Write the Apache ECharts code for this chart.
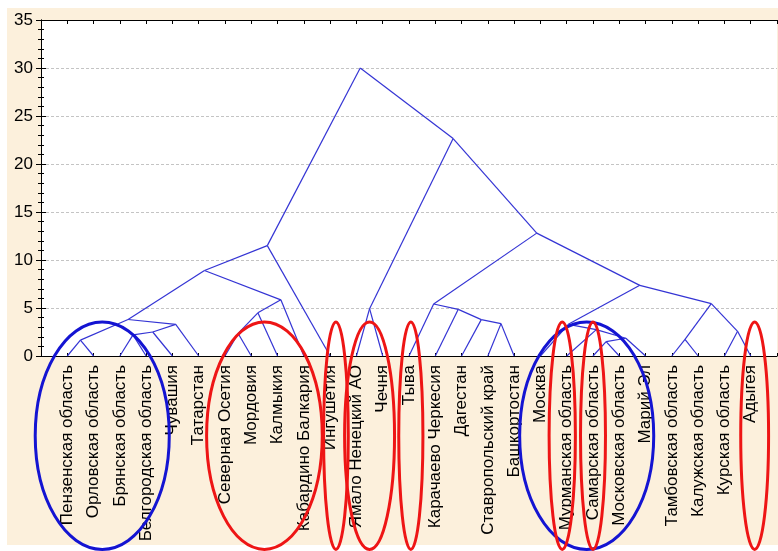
<!DOCTYPE html>
<html>
<head>
<meta charset="utf-8">
<script src="https://cdn.jsdelivr.net/npm/echarts@6/dist/echarts.min.js"></script>
<style>
  html, body { margin: 0; padding: 0; background: #ffffff; }
  #chart { width: 778px; height: 551px; }
</style>
</head>
<body>
<div id="chart"></div>
<script>
// Leaves of the tree, in display order (left to right)
const leafNames = [
  'Пензенская область', 'Орловская область', 'Брянская область', 'Белгородская область',
  'Чувашия', 'Татарстан', 'Северная Осетия', 'Мордовия', 'Калмыкия',
  'Кабардино Балкария', 'Ингушетия', 'Ямало Ненецкий АО', 'Чечня', 'Тыва',
  'Карачаево Черкесия', 'Дагестан', 'Ставропольский край', 'Башкортостан',
  'Москва', 'Мурманская область', 'Самарская область', 'Московская область',
  'Марий Эл', 'Тамбовская область', 'Калужская область', 'Курская область', 'Адыгея'
];

// Linkage steps: node ids 0..26 are leaves, merge k creates node 27 + k
const mergeLeft   = [0, 2, 28, 29, 27, 6, 32, 33, 31, 35, 11, 16, 15, 14, 13, 20, 42, 19, 18, 23, 25, 46, 45, 41, 37, 36];
const mergeRight  = [1, 3, 4, 5, 30, 7, 8, 9, 34, 10, 12, 17, 38, 39, 40, 21, 22, 43, 44, 24, 26, 47, 48, 49, 50, 51];
const mergeHeight = [1.65, 2.2, 2.5, 3.3, 3.8, 2.35, 4.5, 5.85, 8.9, 11.5, 4.93, 3.37, 3.79, 4.86, 5.42,
                     1.5, 1.85, 2.75, 3.3, 1.74, 2.57, 5.46, 7.36, 12.8, 22.65, 30.0];

// Linkage distance axis
const distMin = 0;
const distMax = 35;
const distStep = 5;

// Highlighted groups of leaves (first and last member of each group)
const ringFirst = ['Пензенская область', 'Москва', 'Северная Осетия', 'Ингушетия', 'Ямало Ненецкий АО',
                   'Тыва', 'Мурманская область', 'Самарская область', 'Адыгея'];
const ringLast  = ['Белгородская область', 'Марий Эл', 'Кабардино Балкария', 'Ингушетия', 'Чечня',
                   'Тыва', 'Мурманская область', 'Самарская область', 'Адыгея'];

// Ring drawing style: colour, horizontal nudge and extra half-width (axis units)
const ringColor = ['#1414d2', '#1414d2', '#ee1515', '#ee1515', '#ee1515', '#ee1515', '#ee1515', '#ee1515', '#ee1515'];
const ringShift = [-0.17, -0.24, 0, 0.22, 0, 0.07, -0.17, 0, 0.15];
const ringPad   = [1.05, 0.55, 0.7, 0.47, 0.45, 0.46, 0.5, 0.475, 0.53];

// Node positions: leaves sit on integer slots, each merge sits midway between its children
const nodeX = leafNames.map((_, i) => i + 1);
const nodeH = leafNames.map(() => 0);
mergeLeft.forEach((a, k) => {
  const b = mergeRight[k];
  nodeX.push((nodeX[a] + nodeX[b]) / 2);
  nodeH.push(mergeHeight[k]);
});

// Straight branches from every merge node to each of its two children
const branches = [];
mergeLeft.forEach((a, k) => {
  const id = leafNames.length + k;
  [a, mergeRight[k]].forEach(c => {
    branches.push({ coords: [[nodeX[id], nodeH[id]], [nodeX[c], nodeH[c]]] });
  });
});

const rings = ringFirst.map((f, i) => {
  const a = leafNames.indexOf(f) + 1;
  const b = leafNames.indexOf(ringLast[i]) + 1;
  return [(a + b) / 2 + ringShift[i], (b - a) / 2 + ringPad[i], i];
});

const FONT = "'Liberation Sans', Arial, sans-serif";
const slotCount = leafNames.length + 1;

const chart = echarts.init(document.getElementById('chart'), null, { renderer: 'canvas' });
chart.setOption({
  backgroundColor: '#ffffff',
  animation: false,
  graphic: [{
    type: 'rect', z: -100, silent: true,
    shape: { x: 7, y: 8, width: 771, height: 537 },
    style: { fill: '#fcf0dc' }
  }],
  grid: {
    left: 41, top: 20, width: 736, height: 336,
    show: true, backgroundColor: '#ffffff', borderWidth: 0
  },
  xAxis: [{
    type: 'value', position: 'bottom', min: 0, max: slotCount, interval: 1,
    axisLine: { show: true, onZero: false, lineStyle: { color: '#000', width: 1 } },
    axisTick: { show: true, inside: true, length: 3, lineStyle: { color: '#000' } },
    axisLabel: {
      rotate: 90, margin: 9, fontSize: 17, color: '#000', fontFamily: FONT,
      formatter: v => leafNames[v - 1] || ''
    },
    splitLine: { show: false }
  }, {
    type: 'value', position: 'top', min: 0, max: slotCount, interval: 1,
    axisLine: { show: true, onZero: false, lineStyle: { color: '#000', width: 1 } },
    axisTick: { show: true, inside: true, length: 4, lineStyle: { color: '#000' } },
    axisLabel: { show: false },
    splitLine: { show: false }
  }],
  yAxis: [{
    type: 'value', position: 'left', min: distMin, max: distMax, interval: distStep,
    axisLine: { show: true, lineStyle: { color: '#000', width: 1 } },
    axisTick: { show: true, inside: true, length: 5, lineStyle: { color: '#000' } },
    minorTick: { show: true, splitNumber: 5, length: 3, lineStyle: { color: '#000' } },
    axisLabel: { fontSize: 17, color: '#000', margin: 8, fontFamily: FONT },
    splitLine: { show: true, lineStyle: { color: '#c4c4c4', width: 1, type: [3, 2] } }
  }, {
    type: 'value', position: 'right', min: distMin, max: distMax, interval: distStep,
    axisLine: { show: true, lineStyle: { color: '#000', width: 1 } },
    axisTick: { show: true, inside: true, length: 5, lineStyle: { color: '#000' } },
    minorTick: { show: true, splitNumber: 5, length: 3, lineStyle: { color: '#000' } },
    axisLabel: { show: false },
    splitLine: { show: false }
  }],
  series: [{
    type: 'lines',
    coordinateSystem: 'cartesian2d',
    xAxisIndex: 0, yAxisIndex: 0,
    polyline: false, silent: true, z: 3,
    lineStyle: { color: '#3434d4', width: 1.2, opacity: 1, curveness: 0 },
    data: branches
  }, {
    type: 'custom',
    coordinateSystem: 'cartesian2d',
    xAxisIndex: 0, yAxisIndex: 0,
    clip: false, silent: true, z: 6,
    data: rings,
    renderItem: (params, api) => {
      const base = api.coord([api.value(0), distMin]);
      const rx = api.size([api.value(1), 0])[0];
      return {
        type: 'ellipse',
        shape: { cx: base[0], cy: base[1] + 79.7, rx: rx, ry: 113.7 },
        style: { fill: 'none', stroke: ringColor[api.value(2)], lineWidth: 3 }
      };
    }
  }]
});
</script>
</body>
</html>
